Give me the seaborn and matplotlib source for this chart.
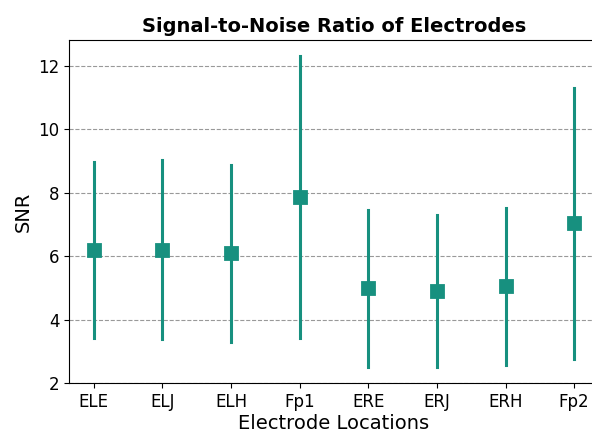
import pandas as pd
import matplotlib
matplotlib.use("Agg")
import matplotlib.pyplot as plt
import seaborn as sns

# electrode SNR summary (mean and std)
electrodes = ["ELE", "ELJ", "ELH", "Fp1", "ERE", "ERJ", "ERH", "Fp2"]
snr_mean = [6.18, 6.20, 6.09, 7.86, 4.98, 4.90, 5.05, 7.03]
snr_std = [2.77, 2.81, 2.79, 4.44, 2.47, 2.39, 2.47, 4.26]

rows = []
for e, m, s in zip(electrodes, snr_mean, snr_std):
    rows += [(e, m - s), (e, m), (e, m + s)]
df = pd.DataFrame(rows, columns=["Electrode", "SNR"])

color = "#17907f"

fig = plt.figure(figsize=(5.92, 4.32), dpi=100)
ax = fig.add_axes([0.1166, 0.1134, 0.895, 0.7936])
ax.grid(axis="y", linestyle="--", color="gray", linewidth=0.8, alpha=0.8)
ax.set_axisbelow(True)

sns.pointplot(data=df, x="Electrode", y="SNR", order=electrodes,
              estimator="median", errorbar=("pi", 100),
              linestyle="none", marker="s", markersize=8.5,
              color=color, err_kws={"linewidth": 2.2}, ax=ax)

ax.set_xlim(-0.36, 7.36)
ax.set_ylim(2, 12.8)
ax.set_yticks([2, 4, 6, 8, 10, 12])
ax.tick_params(labelsize=12)
ax.set_title("Signal-to-Noise Ratio of Electrodes", fontsize=14, fontweight="bold")
ax.set_xlabel("Electrode Locations", fontsize=14, labelpad=2)
ax.set_ylabel("SNR", fontsize=14)

fig.savefig("out.png", dpi=100)
